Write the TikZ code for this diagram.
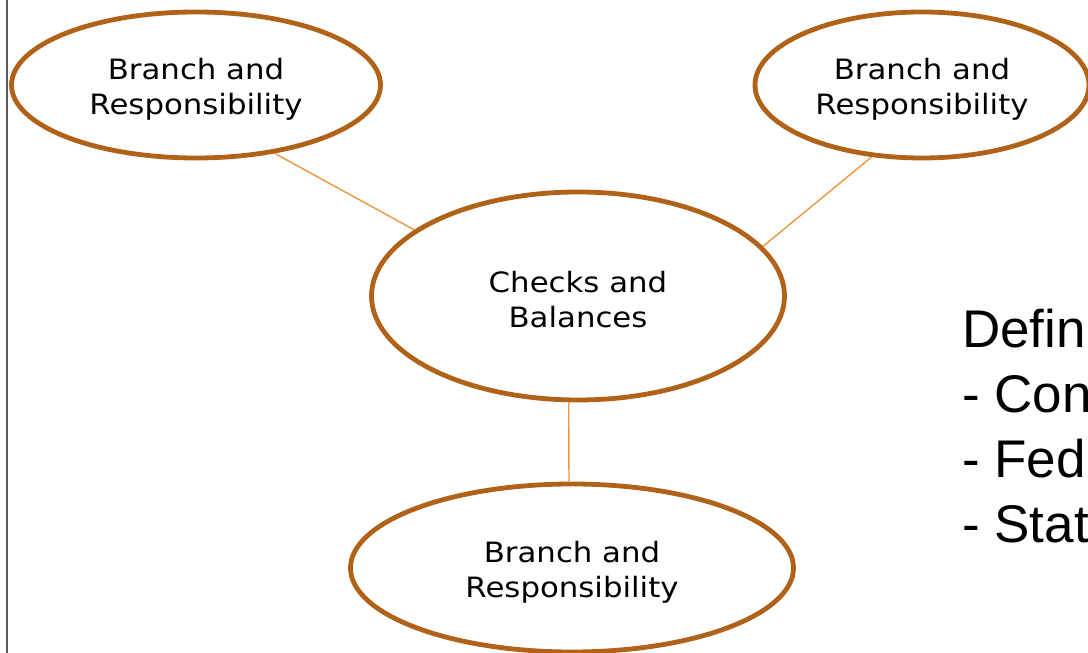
\documentclass[tikz,border=0pt]{standalone}
\usepackage{fontspec}
\setmainfont{DejaVu Sans}[FakeStretch=1.1]
\newfontfamily\deffont{Liberation Sans}
\definecolor{ovalbrown}{RGB}{176, 98, 24}
\definecolor{linkorange}{RGB}{238, 150, 62}
\usetikzlibrary{shapes.geometric}
\newcommand{\ovallift}{\rule{0pt}{29pt}}

\begin{document}
\begin{tikzpicture}[x=1pt, y=1pt,
  oval/.style={ellipse, draw=ovalbrown, line width=4.8pt, align=center, font=\fontsize{28}{35}\selectfont},
  link/.style={draw=linkorange, line width=1.4pt},
  deftext/.style={font=\deffont\fontsize{53}{65}\selectfont, inner sep=0pt, anchor=base west}]
  \useasboundingbox (0,0) rectangle (1088,653);
  \clip (0,0) rectangle (1088,653);
  \draw[gray!70!black, line width=1.2pt] (7,0) -- (7,653);

  % ovals
  \node[oval, minimum width=413pt, minimum height=208pt] (checks) at (578,357) {\ovallift Checks and\\Balances};
  \node[oval, minimum width=369pt, minimum height=146pt] (branchl) at (196,568) {\ovallift Branch and\\Responsibility};
  \node[oval, minimum width=334pt, minimum height=146pt] (branchr) at (922,568) {\ovallift Branch and\\Responsibility};
  \node[oval, minimum width=443pt, minimum height=168pt] (branchb) at (572,85) {\ovallift Branch and\\Responsibility};

  % links
  \draw[link] (branchl.-41.6) -- (checks.158.2);
  \draw[link] (branchr.-125) -- (checks.15.2);
  \draw[link] (checks.-95.4) -- (branchb.92.7);

  % definitions
  \foreach \t [count=\i] in {Defin, - Con, - Fed, - Stat} {
    \node[deftext] (def\i) at (962, {305-(\i-1)*65}) {\t};
  }
\end{tikzpicture}
\end{document}
